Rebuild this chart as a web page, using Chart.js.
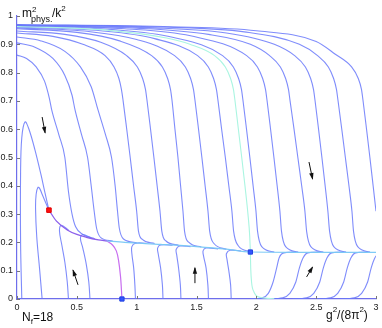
<!DOCTYPE html>
<html>
<head>
<meta charset="utf-8">
<script src="https://cdn.jsdelivr.net/npm/chart.js@4.4.0/dist/chart.umd.min.js"></script>
<style>
  html,body{margin:0;padding:0;background:#fff;}
  #wrap{width:382px;height:328px;}
</style>
</head>
<body>
<div id="wrap"><canvas id="flow" width="382" height="328"></canvas></div>
<script>
// ================== DATA ==================
const xTicks = [0, 0.5, 1, 1.5, 2, 2.5, 3];
const yTicks = [0, 0.1, 0.2, 0.3, 0.4, 0.5, 0.6, 0.7, 0.8, 0.9, 1];

// flows coming down from the top (x = g^2/(8pi^2), y = m^2/k^2)
const top1  = [[0,0.862],[0.08,0.85],[0.16,0.82],[0.23,0.77],[0.27,0.71],[0.29,0.668],[0.35,0.58],[0.40,0.5],[0.43,0.38],[0.46,0.3],[0.49,0.255],[0.55,0.228],[0.65,0.213]];
const top2  = [[0,0.905],[0.15,0.89],[0.3,0.85],[0.4,0.79],[0.46,0.72],[0.485,0.668],[0.54,0.58],[0.59,0.5],[0.62,0.4],[0.645,0.31],[0.665,0.25],[0.7,0.217],[0.8,0.205]];
const top3  = [[0,0.926],[0.2,0.912],[0.4,0.875],[0.53,0.82],[0.62,0.75],[0.677,0.668],[0.74,0.58],[0.79,0.5],[0.82,0.4],[0.84,0.31],[0.855,0.25],[0.89,0.212],[1.0,0.199]];
const top4  = [[0,0.94],[0.3,0.928],[0.55,0.9],[0.736,0.86],[0.811,0.82],[0.851,0.78],[0.873,0.74],[0.886,0.703],[0.917,0.6],[0.946,0.5],[0.974,0.4],[1.0,0.31],[1.015,0.24],[1.05,0.21],[1.15,0.196]];
const top5  = [[0,0.947],[0.4,0.935],[0.7,0.907],[0.916,0.86],[1.006,0.82],[1.049,0.78],[1.074,0.74],[1.086,0.703],[1.116,0.6],[1.144,0.5],[1.171,0.4],[1.195,0.31],[1.21,0.24],[1.245,0.205],[1.35,0.19]];
const top6  = [[0,0.955],[0.5,0.942],[0.85,0.913],[1.125,0.86],[1.215,0.82],[1.258,0.78],[1.283,0.74],[1.295,0.703],[1.32,0.6],[1.345,0.5],[1.367,0.4],[1.387,0.31],[1.4,0.24],[1.437,0.2],[1.54,0.184]];
const top7  = [[0,0.958],[0.6,0.945],[1.0,0.917],[1.317,0.86],[1.407,0.82],[1.45,0.78],[1.475,0.74],[1.487,0.703],[1.517,0.6],[1.545,0.5],[1.572,0.4],[1.596,0.31],[1.61,0.24],[1.646,0.196],[1.75,0.176]];
const top8  = [[0,0.961],[0.7,0.948],[1.15,0.92],[1.509,0.86],[1.599,0.82],[1.642,0.78],[1.667,0.74],[1.679,0.703],[1.71,0.6],[1.741,0.5],[1.77,0.4],[1.796,0.31],[1.81,0.24],[1.846,0.19],[1.95,0.167]];
const top9  = [[0,0.964],[0.8,0.952],[1.3,0.925],[1.718,0.86],[1.808,0.82],[1.851,0.78],[1.876,0.74],[1.888,0.703],[1.918,0.6],[1.946,0.5],[1.973,0.4],[1.997,0.31],[2.01,0.24],[2.045,0.185],[2.15,0.166]];
const top10 = [[0,0.966],[0.9,0.955],[1.45,0.93],[1.919,0.86],[2.009,0.82],[2.052,0.78],[2.077,0.74],[2.089,0.703],[2.119,0.6],[2.147,0.5],[2.174,0.4],[2.197,0.31],[2.21,0.24],[2.245,0.185],[2.35,0.166]];
const top11 = [[0,0.967],[1.0,0.957],[1.6,0.935],[1.95,0.9],[2.111,0.86],[2.201,0.82],[2.244,0.78],[2.269,0.74],[2.281,0.703],[2.315,0.6],[2.347,0.5],[2.379,0.4],[2.406,0.31],[2.42,0.24],[2.455,0.185],[2.56,0.166]];
const top12 = [[0,0.968],[1.1,0.959],[1.75,0.94],[2.15,0.9],[2.32,0.86],[2.41,0.82],[2.453,0.78],[2.478,0.74],[2.49,0.703],[2.52,0.6],[2.548,0.5],[2.575,0.4],[2.598,0.31],[2.612,0.24],[2.647,0.185],[2.75,0.166]];
const top13 = [[0,0.969],[1.2,0.961],[1.9,0.944],[2.36,0.9],[2.512,0.86],[2.602,0.82],[2.645,0.78],[2.67,0.74],[2.682,0.703],[2.714,0.6],[2.744,0.5],[2.774,0.4],[2.799,0.31],[2.812,0.24],[2.847,0.185],[2.95,0.166]];
const top14 = [[0,0.97],[1.3,0.962],[2.0,0.948],[2.5,0.91],[2.66,0.865],[2.796,0.82],[2.851,0.78],[2.879,0.74],[2.891,0.703],[2.921,0.6],[2.949,0.5],[2.976,0.4],[3.0,0.31],[3.02,0.24]];

// the two loops ending in the red fixed point
const loopBig   = [[0.04,0],[0.03,0.2],[0.03,0.45],[0.04,0.57],[0.067,0.626],[0.1,0.6],[0.15,0.527],[0.2,0.44],[0.234,0.375],[0.267,0.314]];
const loopSmall = [[0.21,0],[0.19,0.1],[0.165,0.22],[0.155,0.32],[0.16,0.37],[0.175,0.395],[0.19,0.39],[0.21,0.37],[0.24,0.34],[0.267,0.314]];

// flows coming up from m^2 = 0
const low1 = [[0.43,0],[0.42,0.06],[0.4,0.13],[0.375,0.19],[0.355,0.24],[0.37,0.26],[0.43,0.244]];
const low2 = [[0.61,0],[0.6,0.06],[0.58,0.12],[0.55,0.18],[0.53,0.215],[0.55,0.228],[0.62,0.216]];
const low3 = [[0.99,0],[0.985,0.05],[0.975,0.11],[0.96,0.16],[0.96,0.185],[0.99,0.197],[1.08,0.197]];
const low4 = [[1.22,0],[1.215,0.05],[1.2,0.11],[1.18,0.16],[1.175,0.18],[1.2,0.191],[1.3,0.19]];
const low5 = [[1.37,0],[1.365,0.05],[1.35,0.11],[1.335,0.155],[1.33,0.175],[1.36,0.187],[1.45,0.185]];
const low6 = [[1.6,0],[1.595,0.05],[1.58,0.11],[1.56,0.15],[1.555,0.17],[1.58,0.18],[1.68,0.177]];
const low7 = [[1.79,0],[1.785,0.05],[1.77,0.1],[1.755,0.14],[1.75,0.16],[1.78,0.172],[1.87,0.17]];
const rise1 = [[1.95,0],[2.05,0.004],[2.1,0.02],[2.14,0.06],[2.17,0.11],[2.19,0.145],[2.23,0.163],[2.33,0.166]];
const rise2 = [[2.1,0],[2.22,0.004],[2.28,0.02],[2.33,0.06],[2.36,0.11],[2.39,0.145],[2.43,0.163],[2.53,0.166]];
const rise3 = [[2.3,0],[2.42,0.004],[2.48,0.02],[2.53,0.06],[2.56,0.11],[2.59,0.145],[2.63,0.163],[2.73,0.166]];
const rise4 = [[2.5,0],[2.62,0.004],[2.68,0.02],[2.73,0.06],[2.76,0.11],[2.79,0.145],[2.83,0.163],[2.93,0.166]];
const rise5 = [[2.7,0],[2.82,0.004],[2.88,0.02],[2.93,0.06],[2.96,0.11],[2.99,0.145],[3.03,0.163]];

// special trajectories
const sepPurple = [[0.267,0.314],[0.33,0.275],[0.42,0.244],[0.5,0.228],[0.58,0.218],[0.68,0.209],[0.75,0.205]];
const sepMagenta = [[0.75,0.205],[0.8,0.19],[0.83,0.17],[0.848,0.138],[0.865,0.08],[0.873,0.03],[0.877,0]];
const sepCyan = [[0.75,0.205],[0.9,0.2],[1.2,0.193],[1.5,0.185],[1.75,0.176],[1.95,0.166],[2.3,0.165],[3,0.165]];
const cyanTop = [[0,0.963],[0.75,0.95],[1.25,0.922],[1.445,0.9],[1.651,0.86],[1.741,0.82],[1.784,0.78],[1.809,0.74],[1.821,0.703],[1.85,0.6],[1.878,0.5],[1.905,0.4],[1.93,0.3],[1.945,0.22],[1.95,0.166]];
const cyanDown = [[1.95,0.166],[1.953,0.11],[1.96,0.06],[1.98,0.025],[2.03,0.006],[2.15,0.001]];

// fixed points
const redPoint = [[0.267,0.314]];
const bluePoints = [[0.877,0],[1.95,0.166]];

// arrows: x0, y0, x1, y1 (head at x1, y1)
const arrows = [[0.21,0.643,0.235,0.587],[2.44,0.484,2.47,0.424],[0.51,0.05,0.468,0.102],[1.487,0.056,1.487,0.11],[2.42,0.078,2.47,0.113]];

// ================== HELPERS ==================
const FONT = '"Liberation Sans", Arial, sans-serif';
const blueLine = 'rgba(105,120,250,0.85)';
const toPts = arr => arr.map(p => ({x: p[0], y: p[1]}));

// x-monotone curves get monotone cubic smoothing, the others a bezier
function curve(arr, color, width, order, monotone){
  const ds = {data: toPts(arr), showLine: true, borderColor: color, borderWidth: width || 1.1,
              pointRadius: 0, fill: false, order: order || 3};
  if(monotone) ds.cubicInterpolationMode = 'monotone';
  else ds.tension = 0.35;
  return ds;
}

const monoFlows = [top1, top2, top3, top4, top5, top6, top7, top8, top9, top10, top11, top12, top13, top14,
                   rise1, rise2, rise3, rise4, rise5];
const bentFlows = [loopBig, loopSmall, low1, low2, low3, low4, low5, low6, low7];

const datasets = monoFlows.map(c => curve(c, blueLine, 1.1, 3, true))
  .concat(bentFlows.map(c => curve(c, blueLine, 1.1, 3, false)));
datasets.push(curve(sepCyan, 'rgba(120,200,245,0.95)', 1.2, 2, true));
datasets.push(curve(cyanTop, 'rgb(170,245,225)', 1.1, 2, true));
datasets.push(curve(cyanDown, 'rgb(170,245,225)', 1.1, 2, true));
datasets.push(curve(sepPurple, 'rgb(140,95,235)', 1.3, 2, true));
datasets.push(curve(sepMagenta, 'rgb(200,110,240)', 1.2, 2, false));
datasets.push({data: toPts(redPoint), pointStyle: 'rect', pointRadius: 3.2, backgroundColor: '#ff1010', borderColor: '#e00000', borderWidth: 1, showLine: false, order: 0, clip: false});
datasets.push({data: toPts(bluePoints), pointStyle: 'rect', pointRadius: 3, backgroundColor: '#3355ff', borderColor: '#2040e0', borderWidth: 1, showLine: false, order: 0, clip: false});

// ================== DECORATION PLUGIN ==================
function drawRich(ctx, parts, x){
  // parts: [text, size, baseline]
  parts.forEach(p => {
    ctx.font = p[1] + 'px ' + FONT;
    ctx.fillText(p[0], x, p[2]);
    x += ctx.measureText(p[0]).width;
  });
}

const deco = {
  id: 'deco',
  afterDatasetsDraw(chart){
    const {ctx, chartArea: a, scales: {x, y}} = chart;
    ctx.save();
    // inner ticks
    ctx.strokeStyle = '#777';
    ctx.lineWidth = 1;
    xTicks.forEach(v => {
      const px = Math.round(x.getPixelForValue(v)) + 0.5;
      ctx.beginPath(); ctx.moveTo(px, a.bottom); ctx.lineTo(px, a.bottom - 3); ctx.stroke();
    });
    yTicks.forEach(v => {
      const py = Math.round(y.getPixelForValue(v)) + 0.5;
      ctx.beginPath(); ctx.moveTo(a.left, py); ctx.lineTo(a.left + 3, py); ctx.stroke();
    });
    // arrows
    ctx.strokeStyle = '#111';
    ctx.fillStyle = '#111';
    arrows.forEach(r => {
      const x0 = x.getPixelForValue(r[0]), y0 = y.getPixelForValue(r[1]);
      const x1 = x.getPixelForValue(r[2]), y1 = y.getPixelForValue(r[3]);
      const ang = Math.atan2(y1 - y0, x1 - x0);
      ctx.beginPath(); ctx.moveTo(x0, y0); ctx.lineTo(x1, y1); ctx.stroke();
      ctx.beginPath();
      ctx.moveTo(x1 + Math.cos(ang) * 1, y1 + Math.sin(ang) * 1);
      ctx.lineTo(x1 - Math.cos(ang) * 6 + Math.sin(ang) * 2.2, y1 - Math.sin(ang) * 6 - Math.cos(ang) * 2.2);
      ctx.lineTo(x1 - Math.cos(ang) * 6 - Math.sin(ang) * 2.2, y1 - Math.sin(ang) * 6 + Math.cos(ang) * 2.2);
      ctx.closePath(); ctx.fill();
    });
    ctx.restore();
  },
  afterDraw(chart){
    const ctx = chart.ctx;
    ctx.save();
    ctx.fillStyle = '#111';
    ctx.textAlign = 'left';
    ctx.textBaseline = 'alphabetic';
    // y title m^2_phys./k^2
    drawRich(ctx, [['m', 12, 17]], 22);
    drawRich(ctx, [['2', 8, 11.5]], 32);
    drawRich(ctx, [['phys.', 9, 22]], 31);
    drawRich(ctx, [['/k', 12, 17], ['2', 8, 10.5]], 52);
    // N_f=18
    drawRich(ctx, [['N', 12, 321], ['f', 8, 324], ['=18', 12, 321]], 22);
    // x title g^2/(8pi^2)
    drawRich(ctx, [['g', 12, 318.5], ['2', 8, 312], ['/(8\u03c0', 12, 318.5], ['2', 8, 312], [')', 12, 318.5]], 326);
    ctx.restore();
  }
};

// ================== CHART ==================
const tickFont = {family: FONT, size: 9};
new Chart(document.getElementById('flow'), {
  type: 'scatter',
  data: {datasets},
  options: {
    responsive: false,
    animation: false,
    devicePixelRatio: 1,
    layout: {padding: {top: 16, right: 6, left: 0, bottom: 0}},
    plugins: {legend: {display: false}, tooltip: {enabled: false}},
    scales: {
      x: {
        type: 'linear', min: 0, max: 3,
        afterBuildTicks: s => { s.ticks = xTicks.map(v => ({value: v})); },
        afterFit: s => { s.height = 29; },
        grid: {display: true, drawOnChartArea: false, drawTicks: false},
        border: {display: true, color: 'rgb(110,110,235)', width: 1.2},
        ticks: {font: tickFont, color: '#222', padding: 3, maxRotation: 0,
                callback: v => String(Math.round(v * 10) / 10)}
      },
      y: {
        type: 'linear', min: 0, max: 1,
        afterBuildTicks: s => { s.ticks = yTicks.map(v => ({value: v})); },
        afterFit: s => { s.width = 17; },
        grid: {display: true, drawOnChartArea: false, drawTicks: false},
        border: {display: true, color: 'rgb(110,110,235)', width: 1.2},
        ticks: {font: tickFont, color: '#222', padding: 4,
                callback: v => String(Math.round(v * 10) / 10)}
      }
    }
  },
  plugins: [deco]
});
</script>
</body>
</html>
